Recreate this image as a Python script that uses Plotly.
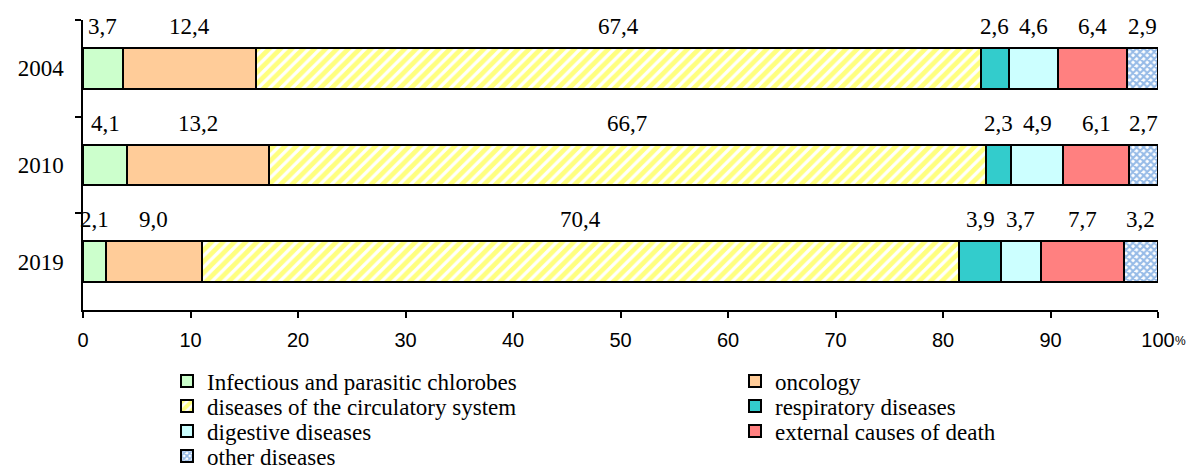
import plotly.graph_objects as go

years = ["2004", "2010", "2019"]
series_names = [
    "Infectious and parasitic chlorobes",
    "oncology",
    "diseases of the circulatory system",
    "respiratory diseases",
    "digestive diseases",
    "external causes of death",
    "other diseases",
]
infectious = [3.7, 4.1, 2.1]
oncology = [12.4, 13.2, 9.0]
circulatory = [67.4, 66.7, 70.4]
respiratory = [2.6, 2.3, 3.9]
digestive = [4.6, 4.9, 3.7]
external = [6.4, 6.1, 7.7]
other = [2.9, 2.7, 3.2]
x_ticks = [0, 10, 20, 30, 40, 50, 60, 70, 80, 90, 100]

series_values = [infectious, oncology, circulatory, respiratory, digestive, external, other]
colors = ["#CCFFCC", "#FFCC99", "#FFFFFF", "#33CCCC", "#CCFFFF", "#FF8080", "#FFFFFF"]
patterns = [
    None, None,
    dict(shape="/", fgcolor="#FFFF00", bgcolor="#FFFFFF", size=8, solidity=0.6),
    None, None, None,
    dict(shape="x", fgcolor="#2F78D0", bgcolor="#FFFFFF", size=5, solidity=0.65),
]

# figure geometry (the page adds an 8px body margin, so the figure is 8px smaller)
W, H = 1187, 462
L, R, T, B = 75, 37, 12, 160
plot_w = W - L - R
plot_h = H - T - B

fig = go.Figure()
legend_layouts = {}
for k, (name, vals, col, pat) in enumerate(zip(series_names, series_values, colors, patterns)):
    marker = dict(color=col, line=dict(color="black", width=2))
    if pat:
        marker["pattern"] = pat
    lg = "legend" if k == 0 else f"legend{k + 1}"
    fig.add_trace(go.Bar(
        y=years, x=vals, name=name, orientation="h",
        marker=marker, width=0.42, hoverinfo="x+name", legend=lg,
    ))
    row, colno = divmod(k, 2)
    item_x = 159 if colno == 0 else 727          # figure px of legend item start
    row_y = 373 + 25 * row                         # figure px of legend row centre
    legend_layouts[lg] = dict(
        x=(item_x - L) / plot_w, y=(H - B - row_y) / plot_h,
        xanchor="left", yanchor="middle", orientation="v",
        font=dict(family="Liberation Serif", size=23, color="black"),
        bgcolor="rgba(0,0,0,0)", itemclick=False, itemdoubleclick=False,
    )

# value labels above each segment
annotations = []
for i, yr in enumerate(years):
    cum = 0.0
    for vals in series_values:
        v = vals[i]
        annotations.append(dict(
            x=cum + v / 2, y=i, xref="x", yref="y",
            text=f"{v:.1f}".replace(".", ","), showarrow=False,
            yshift=42, font=dict(family="Liberation Serif", size=23, color="black"),
        ))
        cum += v

annotations.append(dict(
    x=1.0, y=0, xref="paper", yref="paper", xanchor="left", yanchor="top",
    text="%", showarrow=False, xshift=15, yshift=-22,
    font=dict(family="Liberation Sans", size=12, color="black"),
))

fig.update_layout(
    barmode="stack",
    width=W, height=H,
    margin=dict(l=L, r=R, t=T, b=B, autoexpand=False),
    plot_bgcolor="white", paper_bgcolor="white",
    annotations=annotations,
    showlegend=True,
    xaxis=dict(
        range=[0, 100], tickvals=x_ticks, ticktext=[str(t) for t in x_ticks],
        showgrid=False, zeroline=False, showline=True, linecolor="black", linewidth=1.5,
        ticks="outside", ticklen=6, tickcolor="black", tickwidth=1.5,
        ticklabelstandoff=5,
        tickfont=dict(family="Liberation Sans", size=20, color="black"),
        fixedrange=True, automargin=False,
    ),
    yaxis=dict(
        type="category",
        categoryorder="array", categoryarray=years,
        range=[len(years) - 0.5, -0.5], autorange=False,
        showgrid=False, zeroline=False, showline=True, linecolor="black", linewidth=1.5,
        ticks="outside", ticklen=6, tickcolor="black", tickwidth=1.5,
        tickson="boundaries", ticklabelstandoff=13,
        tickfont=dict(family="Liberation Serif", size=23, color="black"),
        fixedrange=True, automargin=False,
    ),
)
fig.update_layout(**legend_layouts)

fig.write_html("out.html")
